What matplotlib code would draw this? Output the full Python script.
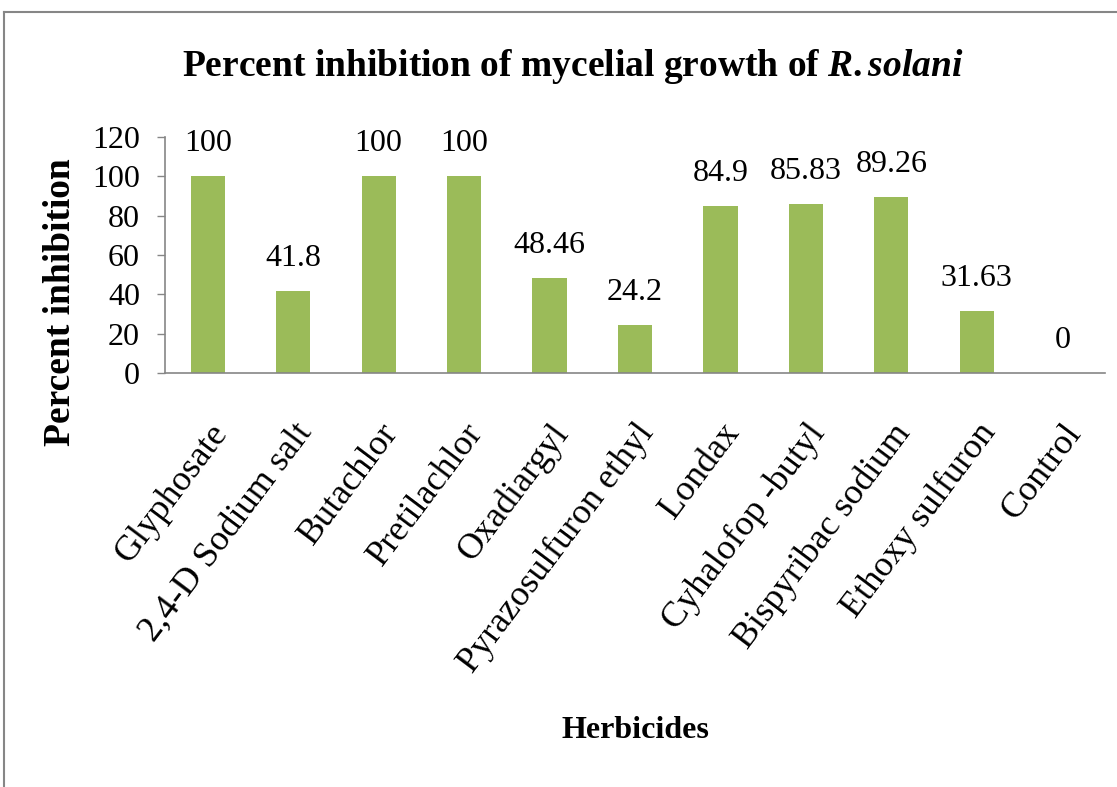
import matplotlib
matplotlib.use("Agg")
import matplotlib.pyplot as plt
from matplotlib.lines import Line2D

categories = ["Glyphosate", "2,4-D Sodium salt", "Butachlor", "Pretilachlor",
              "Oxadiargyl", "Pyrazosulfuron ethyl", "Londax", "Cyhalofop -butyl",
              "Bispyribac sodium", "Ethoxy sulfuron", "Control"]
values = [100, 41.8, 100, 100, 48.46, 24.2, 84.9, 85.83, 89.26, 31.63, 0]
value_labels = ["100", "41.8", "100", "100", "48.46", "24.2", "84.9", "85.83", "89.26", "31.63", "0"]
yticks = [0, 20, 40, 60, 80, 100, 120]

plt.rcParams['font.family'] = ['Liberation Serif', 'DejaVu Serif']
plt.rcParams['mathtext.fontset'] = 'custom'
plt.rcParams['mathtext.it'] = 'Liberation Serif:italic:bold'
plt.rcParams['mathtext.rm'] = 'Liberation Serif:bold'

fig = plt.figure(figsize=(11.17, 7.87), dpi=100)
ax = fig.add_axes([165/1117, 1-373/787, (1105-165)/1117, (373-137)/787])

x = list(range(len(categories)))
ax.bar(x, values, width=0.4, color="#9BBB59", zorder=2)
ax.set_xlim(-0.5, len(categories) - 0.5)
ax.set_ylim(0, 120)
ax.set_yticks(yticks)
ax.set_yticklabels([str(t) for t in yticks], fontsize=23)
ax.set_xticks(x)
ax.set_xticklabels(categories, rotation=53, ha="right", rotation_mode="anchor", fontsize=26)
ax.tick_params(axis="x", length=0, pad=32)
ax.tick_params(axis="y", length=6, color="#868686", width=1, pad=12)

for s in ["top", "right"]:
    ax.spines[s].set_visible(False)
for s in ["left", "bottom"]:
    ax.spines[s].set_color("#868686")
    ax.spines[s].set_linewidth(1.2)

for xi, v, lab in zip(x, values, value_labels):
    ax.annotate(lab, (xi, v), xytext=(0, 13), textcoords="offset points",
                ha="center", va="bottom", fontsize=23)

fig.text(0.513, 1 - 66/787, r"Percent inhibition of mycelial growth of $\mathit{R.solani}$",
         ha="center", va="center", fontsize=27, fontweight="bold")
fig.text(60/1117, 1 - 302/787, "Percent inhibition", rotation=90, ha="center", va="center",
         fontsize=27, fontweight="bold")
fig.text(635/1117, 1 - 730/787, "Herbicides", ha="center", va="center",
         fontsize=23, fontweight="bold")

fig.add_artist(Line2D([4/1117, 4/1117], [0, 1 - 12/787], transform=fig.transFigure,
                      color="#868686", lw=1.5))
fig.add_artist(Line2D([4/1117, 1], [1 - 12/787, 1 - 12/787], transform=fig.transFigure,
                      color="#868686", lw=1.5))

fig.savefig("out.png", dpi=100)
